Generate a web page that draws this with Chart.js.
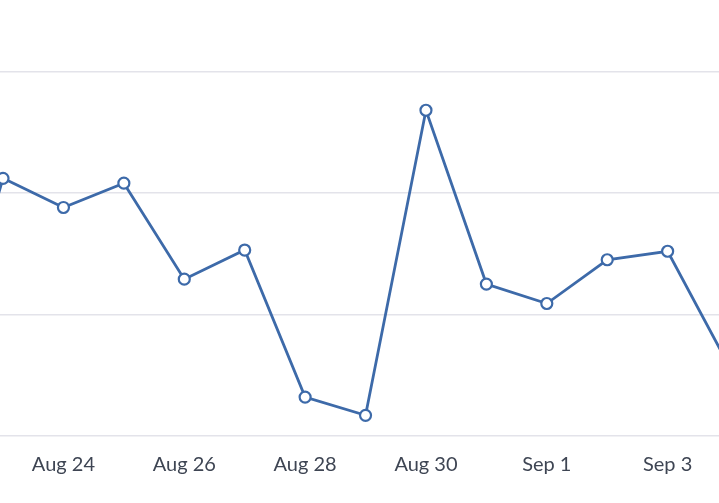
<!DOCTYPE html>
<html>
<head>
<meta charset="utf-8">
<script src="https://cdn.jsdelivr.net/npm/chart.js@4/dist/chart.umd.min.js"></script>
<style>
  html, body { margin: 0; padding: 0; background: #fff; }
  #wrap { width: 719px; height: 503px; position: relative; }
</style>
</head>
<body>
<div id="wrap"><canvas id="lineChart"></canvas></div>
<script>
// data (first and last points sit just outside the frame)
const dayLabels = ["Aug 22", "Aug 23", "Aug 24", "Aug 25", "Aug 26", "Aug 27", "Aug 28",
  "Aug 29", "Aug 30", "Aug 31", "Sep 1", "Sep 2", "Sep 3", "Sep 4"];
const values = [4.0, 21.2, 18.8, 20.8, 12.9, 15.3, 3.2, 1.7, 26.8, 12.5, 10.9, 14.5, 15.2, 5.9];
const xTickIdx = [2, 4, 6, 8, 10, 12];
const yTickVals = [0, 10, 20, 30];

const points = values.map((v, i) => ({ x: i, y: v }));

const ctx = document.getElementById("lineChart").getContext("2d");
new Chart(ctx, {
  type: "line",
  data: {
    datasets: [
      {
        data: points,
        borderColor: "#3d6aa9",
        borderWidth: 2.8,
        pointRadius: 5.5,
        pointBorderWidth: 2.2,
        pointBackgroundColor: "#ffffff",
        pointBorderColor: "#3d6aa9",
        tension: 0,
      },
    ],
  },
  options: {
    responsive: true,
    maintainAspectRatio: false,
    animation: false,
    layout: { autoPadding: false, padding: { left: 0, right: 0, top: 0, bottom: 17 } },
    plugins: { legend: { display: false }, tooltip: { enabled: false } },
    scales: {
      x: {
        type: "linear",
        min: 0.95,
        max: 12.85,
        afterBuildTicks: (s) => { s.ticks = xTickIdx.map((v) => ({ value: v })); },
        grid: { display: false },
        border: { display: false },
        ticks: {
          padding: 9,
          maxRotation: 0,
          autoSkip: false,
          color: "#3e4553",
          font: { family: "Lato", size: 20 },
          callback: (v) => dayLabels[v] || "",
        },
      },
      y: {
        min: 0,
        max: 35.87,
        afterBuildTicks: (s) => { s.ticks = yTickVals.map((v) => ({ value: v })); },
        grid: { color: "#e3e3ea", lineWidth: 1.5, drawTicks: false },
        border: { display: false },
        ticks: { display: false },
      },
    },
  },
});
</script>
</body>
</html>
